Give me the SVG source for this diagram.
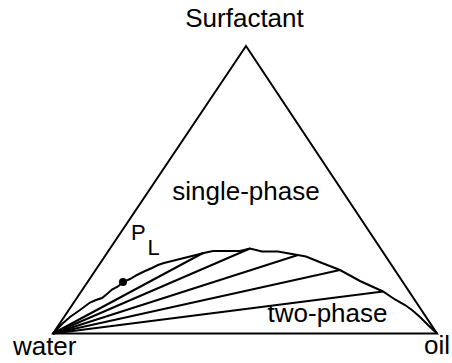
<svg xmlns="http://www.w3.org/2000/svg" width="452" height="363" viewBox="0 0 452 363">
<style>
.ln{fill:none;stroke:#000;stroke-width:2;stroke-linejoin:miter;stroke-linecap:butt}
.t{font-family:"Liberation Sans",Arial,sans-serif;font-size:26px;fill:#000}
</style>
<rect x="0" y="0" width="452" height="363" fill="#fff"/>
<g id="triangle">
<polygon class="ln" points="53,333.5 246,46 437,333.5"/>
</g>
<g id="binodal">
<polyline class="ln" points="53,333.5 62,324 70,317 80,310 90,302.5 96,300 102,298 107,294 112,289.5 118,286.5 123,282 130,279 137,275 144,271.5 152,268 158,265 164,263 170,261.5 178,259.5 184,258 192,256 200,254 206,252.5 213,251 240,251 250,248.5 262,251.5 278,251.5 292,254 306,256.5 322,263 340,270 360,281 383,291.5 395,299.5 405,305 412,310 420,317 428,325 437,333.5"/>
</g>
<g id="tielines">
<line class="ln" x1="53" y1="333.5" x2="203" y2="253"/>
<line class="ln" x1="53" y1="333.5" x2="250" y2="248.5"/>
<line class="ln" x1="53" y1="333.5" x2="298" y2="255"/>
<line class="ln" x1="53" y1="333.5" x2="340" y2="270"/>
<line class="ln" x1="53" y1="333.5" x2="383" y2="291.5"/>
</g>
<g id="PL-point">
<circle cx="123" cy="282" r="4" fill="#000"/>
</g>
<g id="labels">
<text class="t" x="244.5" y="27" text-anchor="middle">Surfactant</text>
<text class="t" x="246" y="200" text-anchor="middle">single-phase</text>
<text class="t" x="131" y="240" style="font-size:22px">P</text>
<text class="t" x="147.5" y="255" style="font-size:22px">L</text>
<text class="t" x="327.5" y="321.5" text-anchor="middle">two-phase</text>
<text class="t" x="44.7" y="355" text-anchor="middle">water</text>
<text class="t" x="424" y="353.5">oil</text>
</g>
</svg>
